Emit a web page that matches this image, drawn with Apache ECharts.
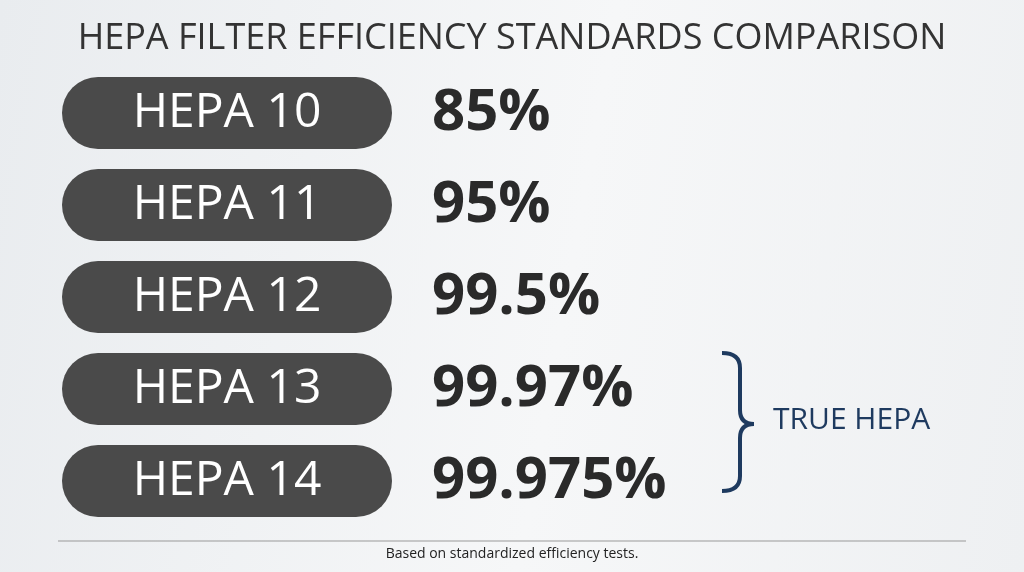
<!DOCTYPE html>
<html><head><meta charset="utf-8">
<script src="https://cdn.jsdelivr.net/npm/echarts@6/dist/echarts.min.js"></script>
<style>html,body{margin:0;padding:0;}#c{width:1024px;height:572px;background:linear-gradient(100deg,#e9ecef 0%,#f6f7f8 55%,#eef0f2 100%);}</style>
</head><body><div id="c"></div>
<script>
const categories = ['HEPA 10','HEPA 11','HEPA 12','HEPA 13','HEPA 14'];
const efficiencies = ['85%','95%','99.5%','99.97%','99.975%'];
const pillValues = [1,1,1,1,1];
const chart = echarts.init(document.getElementById('c'));
chart.setOption({
  title:{text:'HEPA FILTER EFFICIENCY STANDARDS COMPARISON',left:'center',top:16,
    textStyle:{fontFamily:'Open Sans',fontWeight:'normal',fontSize:36,color:'#333'}},
  grid:{left:62,width:330,top:67,bottom:45},
  xAxis:{type:'value',min:0,max:1,show:false},
  yAxis:{type:'category',data:categories,inverse:true,show:false},
  series:[
    {type:'bar',data:pillValues,barWidth:72,itemStyle:{color:'#4a4a4a',borderRadius:36},
     label:{show:true,position:'inside',formatter:p=>categories[p.dataIndex],color:'#fff',fontFamily:'Open Sans',fontSize:48}},
    {type:'bar',data:pillValues,barWidth:72,barGap:'-100%',itemStyle:{color:'transparent'},silent:true,
     label:{show:true,position:'right',distance:40,formatter:p=>efficiencies[p.dataIndex],color:'#2a2a2a',fontFamily:'Open Sans',fontWeight:'bold',fontSize:58}}
  ],
  graphic:[
    {type:'bezierCurve',shape:{x1:722,y1:353,x2:740,y2:368,cpx1:740,cpy1:353},style:{fill:'none',stroke:'#1e3a5f',lineWidth:4}},
    {type:'line',shape:{x1:740,y1:368,x2:740,y2:410},style:{stroke:'#1e3a5f',lineWidth:4}},
    {type:'bezierCurve',shape:{x1:740,y1:410,x2:754,y2:424,cpx1:740,cpy1:424},style:{fill:'none',stroke:'#1e3a5f',lineWidth:4}},
    {type:'bezierCurve',shape:{x1:754,y1:424,x2:740,y2:438,cpx1:740,cpy1:424},style:{fill:'none',stroke:'#1e3a5f',lineWidth:4}},
    {type:'line',shape:{x1:740,y1:438,x2:740,y2:476},style:{stroke:'#1e3a5f',lineWidth:4}},
    {type:'bezierCurve',shape:{x1:740,y1:476,x2:722,y2:491,cpx1:740,cpy1:491},style:{fill:'none',stroke:'#1e3a5f',lineWidth:4}},
    {type:'text',left:773,top:405,style:{text:'TRUE HEPA',fill:'#1e3a5f',font:'30px "Open Sans"'}},
    {type:'line',shape:{x1:58,y1:541,x2:966,y2:541},style:{stroke:'#999',lineWidth:1}},
    {type:'text',left:'center',top:547,style:{text:'Based on standardized efficiency tests.',fill:'#222',font:'14px "Open Sans"'}}
  ]
});
</script></body></html>
